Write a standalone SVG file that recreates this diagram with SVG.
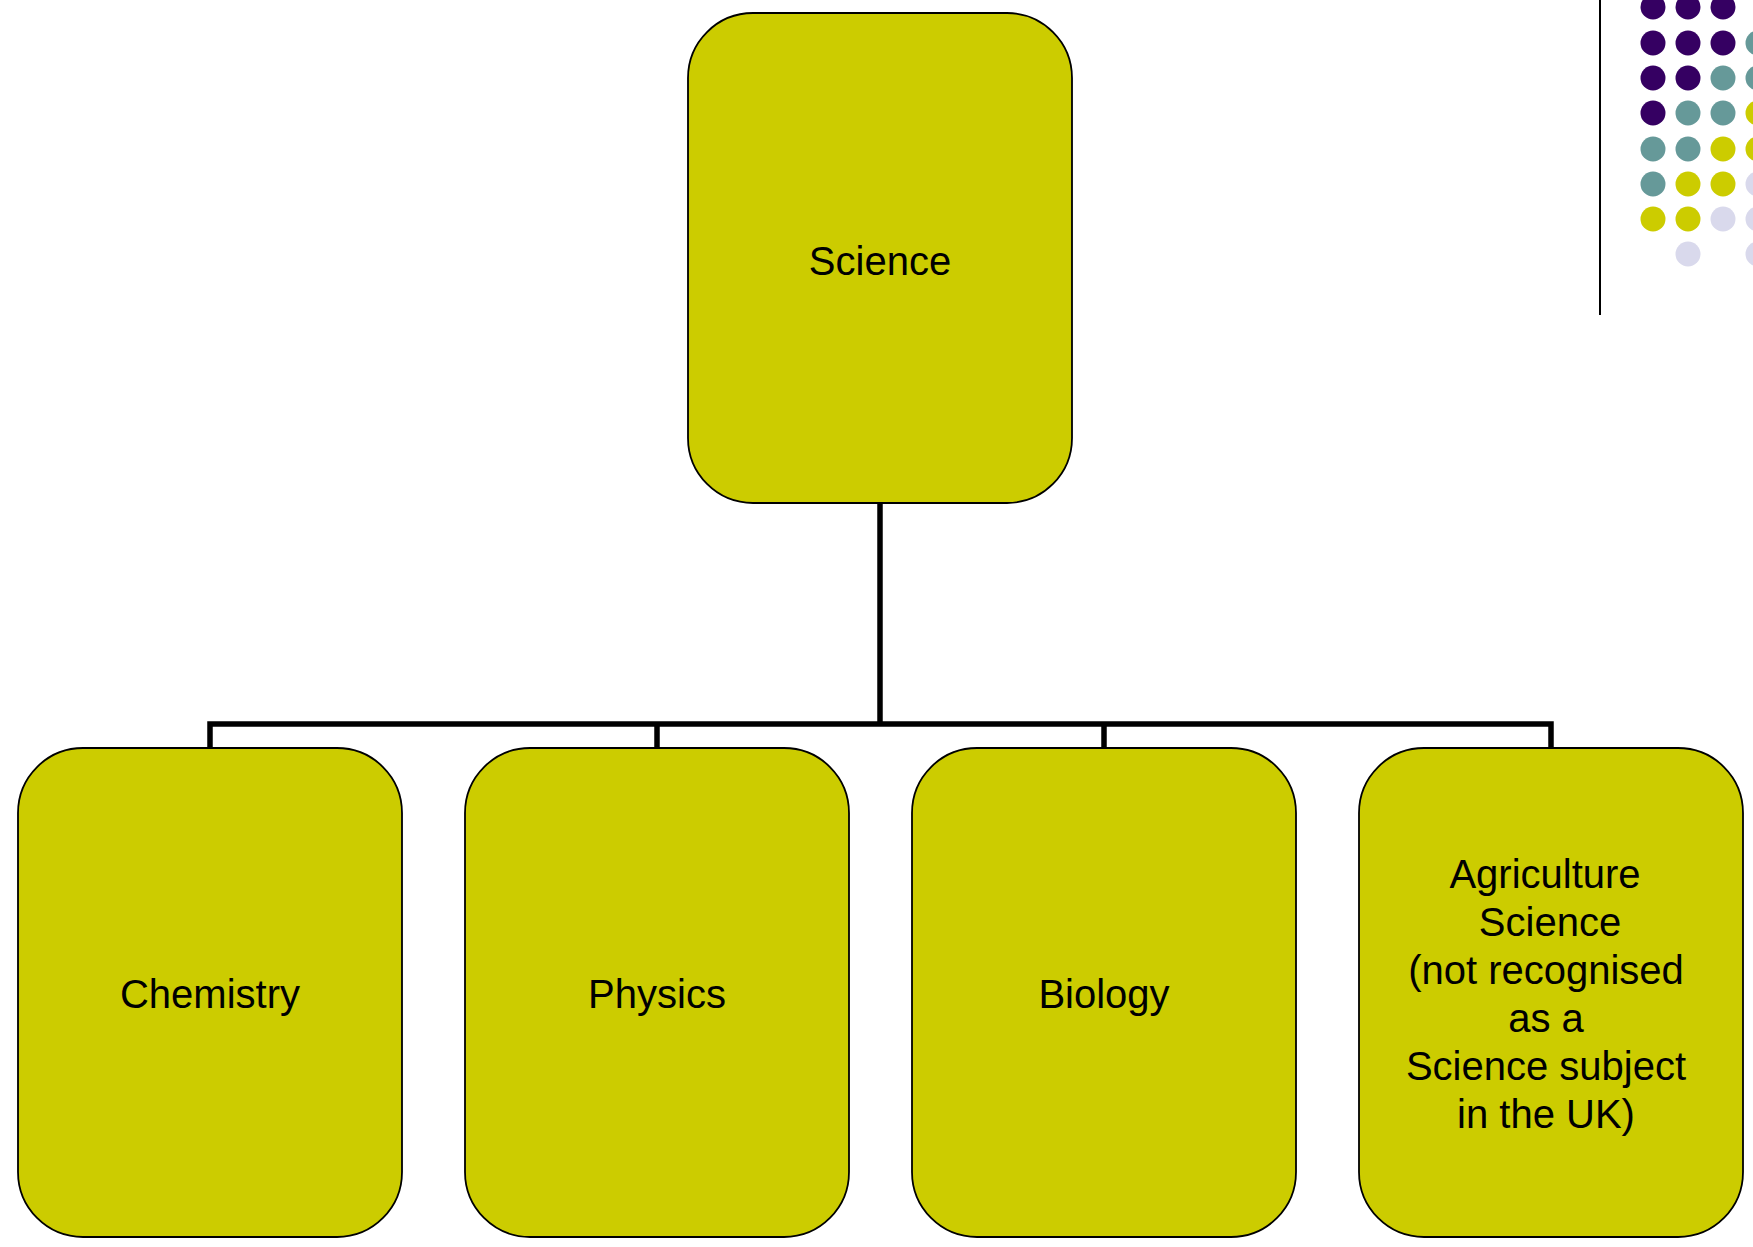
<svg xmlns="http://www.w3.org/2000/svg" width="1753" height="1247" viewBox="0 0 1753 1247">
<style>
.box{fill:#CCCC00;stroke:#000;stroke-width:1.8}
.lbl{font-family:"Liberation Sans",Arial,sans-serif;font-size:40px;fill:#000;text-anchor:middle}
.conn{fill:none;stroke:#000;stroke-width:5.5;stroke-linejoin:miter}
.p{fill:#350062}.t{fill:#669999}.y{fill:#CCCC00}.l{fill:#D9D9EC}
</style>
<rect width="1753" height="1247" fill="#fff"/>
<g id="decor">
<line x1="1600" y1="0" x2="1600" y2="315" stroke="#000" stroke-width="2"/>
<circle class="p" cx="1653" cy="7" r="12.5"/><circle class="p" cx="1688" cy="7" r="12.5"/><circle class="p" cx="1723" cy="7" r="12.5"/>
<circle class="p" cx="1653" cy="43" r="12.5"/><circle class="p" cx="1688" cy="43" r="12.5"/><circle class="p" cx="1723" cy="43" r="12.5"/><circle class="t" cx="1758" cy="43" r="12.5"/>
<circle class="p" cx="1653" cy="78" r="12.5"/><circle class="p" cx="1688" cy="78" r="12.5"/><circle class="t" cx="1723" cy="78" r="12.5"/><circle class="t" cx="1758" cy="78" r="12.5"/>
<circle class="p" cx="1653" cy="113" r="12.5"/><circle class="t" cx="1688" cy="113" r="12.5"/><circle class="t" cx="1723" cy="113" r="12.5"/><circle class="y" cx="1758" cy="113" r="12.5"/>
<circle class="t" cx="1653" cy="149" r="12.5"/><circle class="t" cx="1688" cy="149" r="12.5"/><circle class="y" cx="1723" cy="149" r="12.5"/><circle class="y" cx="1758" cy="149" r="12.5"/>
<circle class="t" cx="1653" cy="184" r="12.5"/><circle class="y" cx="1688" cy="184" r="12.5"/><circle class="y" cx="1723" cy="184" r="12.5"/><circle class="l" cx="1758" cy="184" r="12.5"/>
<circle class="y" cx="1653" cy="219" r="12.5"/><circle class="y" cx="1688" cy="219" r="12.5"/><circle class="l" cx="1723" cy="219" r="12.5"/><circle class="l" cx="1758" cy="219" r="12.5"/>
<circle class="l" cx="1688" cy="254" r="12.5"/><circle class="l" cx="1758" cy="254" r="12.5"/>
</g>
<g id="connectors">
<path class="conn" d="M880,503 V724"/>
<path class="conn" d="M210,748 V724 H1551 V748"/>
<path class="conn" d="M657,748 V724"/>
<path class="conn" d="M1104,748 V724"/>
</g>
<g id="science">
<rect class="box" x="688" y="13" width="384" height="490" rx="65" ry="65"/>
<text class="lbl" x="880" y="275">Science</text>
</g>
<g id="chemistry">
<rect class="box" x="18" y="748" width="384" height="489" rx="65" ry="65"/>
<text class="lbl" x="210" y="1008">Chemistry</text>
</g>
<g id="physics">
<rect class="box" x="465" y="748" width="384" height="489" rx="65" ry="65"/>
<text class="lbl" x="657" y="1008">Physics</text>
</g>
<g id="biology">
<rect class="box" x="912" y="748" width="384" height="489" rx="65" ry="65"/>
<text class="lbl" x="1104" y="1008">Biology</text>
</g>
<g id="agriculture">
<rect class="box" x="1359" y="748" width="384" height="489" rx="65" ry="65"/>
<text class="lbl"><tspan x="1545" y="888">Agriculture</tspan><tspan x="1550" y="936">Science</tspan><tspan x="1546" y="984">(not recognised</tspan><tspan x="1546" y="1032">as a</tspan><tspan x="1546" y="1080">Science subject</tspan><tspan x="1546" y="1128">in the UK)</tspan></text>
</g>
</svg>
